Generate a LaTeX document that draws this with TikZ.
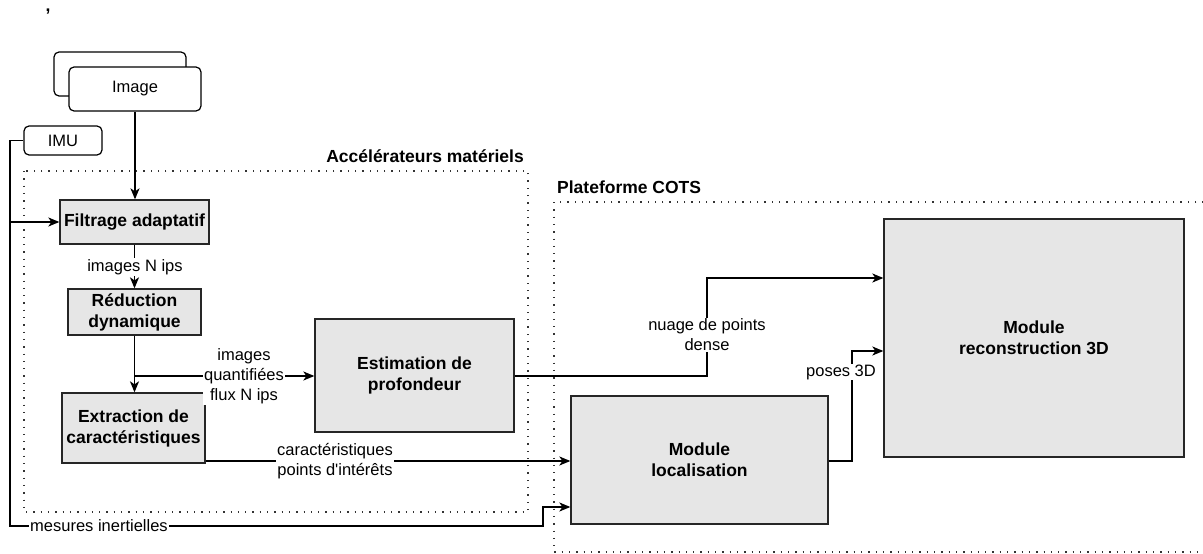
\documentclass[tikz,border=0pt]{standalone}
\usepackage{fontspec}
\setmainfont{Liberation Sans}[Ligatures=TeXOff]
\usetikzlibrary{arrows.meta}
\definecolor{boxgray}{HTML}{E6E6E6}
\tikzset{
  block/.style={draw=black!85, line width=1.3pt, fill=boxgray, align=center, inner sep=0pt,
    font=\bfseries\fontsize{17.5}{21}\selectfont},
  tag/.style={draw=black, line width=1.2pt, rounded corners=5pt, fill=white, inner sep=0pt,
    font=\fontsize{16.5}{20}\selectfont},
  wire/.style={line width=1.3pt},
  link/.style={wire, -{Stealth[length=11pt,width=9pt,inset=3pt]}},
  lbl/.style={fill=white, align=center, inner sep=1pt, font=\fontsize{16.5}{20}\selectfont},
  zone/.style={line width=1.3pt, dash pattern=on 1.3pt off 6pt, draw=black!80},
  zonetitle/.style={inner sep=0pt, font=\bfseries\fontsize{17.5}{21}\selectfont}
}
\begin{document}
\begin{tikzpicture}[x=1pt,y=-1pt]
\useasboundingbox (0,0) rectangle (1203,554);

% stray mark at the top left
\node[font=\bfseries\fontsize{17.5}{21}\selectfont, inner sep=0pt] (comma) at (48,12) {,};

% grouping zones
\draw[zone] (24,171) rectangle (528,512);
\node[zonetitle, anchor=east] (acctitle) at (524,156) {Accélérateurs matériels};
\draw[zone] (554,202) rectangle (1215,552);
\node[zonetitle, anchor=west] (cotstitle) at (557,187) {Plateforme COTS};

% inputs
\draw[draw=black, line width=1.2pt, rounded corners=5pt, fill=white] (54,52) rectangle (186,96);
\node[tag, minimum width=132pt, minimum height=44pt] (img) at (135,89) {Image};
\node[tag, minimum width=78pt, minimum height=29pt] (imu) at (63,140.5) {IMU};

% processing blocks
\node[block, minimum width=149pt, minimum height=44pt] (filt) at (134.5,222) {Filtrage adaptatif};
\node[block, minimum width=133pt, minimum height=46pt] (red) at (134.5,312) {Réduction\\dynamique};
\node[block, minimum width=143pt, minimum height=70pt] (ext) at (133.5,428) {Extraction de\\caractéristiques};
\node[block, minimum width=199pt, minimum height=113pt] (est) at (414.5,375.5) {Estimation de\\profondeur};
\node[block, minimum width=257pt, minimum height=128pt] (loc) at (699.5,460) {Module\\localisation};
\node[block, minimum width=300pt, minimum height=238pt] (rec) at (1034,338) {Module\\reconstruction 3D};

% IMU feed
\coordinate (busA) at (10,222);
\coordinate (busB) at (10,526);
\coordinate (stepA) at (543,526);
\coordinate (stepB) at (543,507);
\draw[link] (imu.west) -| (busA) -- (filt.west);
\draw[link] (busA) -- (busB) -- (stepA) -- (stepB) -- (stepB -| loc.west);
\node[lbl] (mes) at (99,526) {mesures inertielles};

% image path
\draw[link] (img.south) -- (img.south |- filt.north);
\draw[link] (filt.south) -- (filt.south |- red.north);
\node[lbl] (nips) at (135,267) {images N ips};
\coordinate (fork) at (135,376);
\draw[link] (red.south) -- (red.south |- ext.north);
\draw[link] (fork) -- (fork -| est.west);
\node[lbl] (quant) at (244,376) {images\\quantifiées\\flux N ips};

% features to localisation
\draw[link] (ext.east |- 0,461) -- (loc.west |- 0,461);
\node[lbl] (feat) at (335,461) {caractéristiques\\points d'intérêts};

% depth to reconstruction
\coordinate (cloudA) at (707,376);
\coordinate (cloudB) at (707,278);
\draw[link] (est.east |- cloudA) -- (cloudA) -- (cloudB) -- (cloudB -| rec.west);
\node[lbl] (cloud) at (707,335) {nuage de points\\dense};

% poses to reconstruction
\coordinate (poseA) at (852,461);
\coordinate (poseB) at (852,351);
\draw[link] (loc.east |- poseA) -- (poseA) -- (poseB) -- (poseB -| rec.west);
\node[lbl] (poses) at (841,372) {poses 3D};
\end{tikzpicture}
\end{document}
